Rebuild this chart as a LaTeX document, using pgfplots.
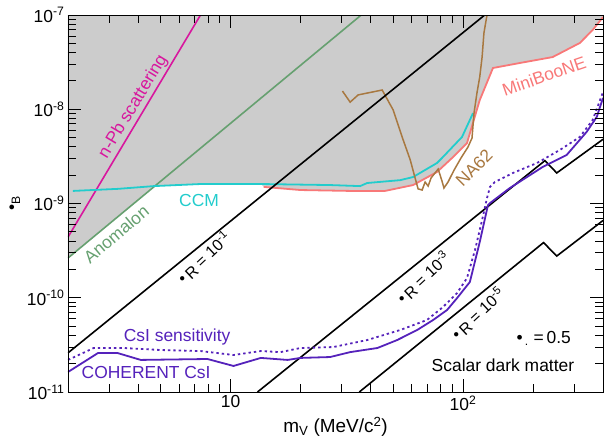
\documentclass[border=0pt]{standalone}
\usepackage{fontspec}
\setmainfont{Liberation Sans}
\usepackage{pgfplots}
\pgfplotsset{compat=1.18}

\definecolor{fillgray}{HTML}{CCCCCC}
\definecolor{npb}{HTML}{D8179E}
\definecolor{anom}{HTML}{66A070}
\definecolor{ccm}{HTML}{22CCCC}
\definecolor{mboone}{HTML}{F87878}
\definecolor{na62}{HTML}{A87840}
\definecolor{csi}{HTML}{5522BB}

\newcommand{\lblfont}{\fontsize{17.5}{20}\selectfont}
\newcommand{\relicfont}{\fontsize{16}{19}\selectfont}

\begin{document}
\begin{tikzpicture}
\useasboundingbox (-68bp,-49bp) rectangle (538bp,392bp);
\begin{axis}[
  at={(0,0)}, anchor=south west,
  width=535bp, height=377bp, scale only axis,
  xmode=log, ymode=log,
  xmin=2, xmax=400, ymin=1e-11, ymax=1e-7,
  xtick={10,100}, xticklabels={10,10\textsuperscript{2}},
  minor xtick={2,3,4,5,6,7,8,9,20,30,40,50,60,70,80,90,200,300,400},
  ytick={1e-11,1e-10,1e-9,1e-8,1e-7},
  yticklabels={10\textsuperscript{-11},10\textsuperscript{-10},10\textsuperscript{-9},10\textsuperscript{-8},10\textsuperscript{-7}},
  minor ytick={2e-11,3e-11,4e-11,5e-11,6e-11,7e-11,8e-11,9e-11,
               2e-10,3e-10,4e-10,5e-10,6e-10,7e-10,8e-10,9e-10,
               2e-9,3e-9,4e-9,5e-9,6e-9,7e-9,8e-9,9e-9,
               2e-8,3e-8,4e-8,5e-8,6e-8,7e-8,8e-8,9e-8},
  tick align=inside,
  major tick length=13bp, minor tick length=8bp,
  tick style={black, line width=0.8bp},
  axis line style={black, line width=0.8bp},
  ticklabel style={font=\lblfont},
  xlabel={m\textsubscript{V} (MeV/c\textsuperscript{2})},
  xlabel style={font=\fontsize{19}{22}\selectfont},
  ylabel={\textbullet\textsubscript{B}},
  ylabel style={font=\lblfont},
  axis on top,
]

% excluded region
\addplot[fill=fillgray, draw=none] coordinates {
  (2,2.64e-10) (4.68,1.53e-9) (7.43,1.61e-9) (13.5,1.61e-9) (13.9,1.50e-9)
  (20,1.39e-9) (32.7,1.36e-9) (46.2,1.36e-9) (61,1.57e-9) (77.3,2.16e-9)
  (90.6,3.11e-9) (104,4.38e-9) (118,1.25e-8) (134.5,2.74e-8) (176,3.1e-8)
  (243,3.58e-8) (318,5.05e-8) (361,6.93e-8) (400,9.5e-8) (400,1e-7) (2,1e-7)};

% n-Pb scattering and Anomalon
\addplot[npb, line width=1.6bp] coordinates {(2,4.4e-10) (7.43,1e-7)};
\addplot[anom, line width=1.6bp] coordinates {(2,2.64e-10) (36.5,1e-7)};

% CCM
\addplot[ccm, line width=1.8bp] coordinates {
  (2.10,1.36e-9) (3.27,1.43e-9) (4.68,1.53e-9) (7.43,1.61e-9) (13.5,1.61e-9)
  (26.8,1.57e-9) (36.1,1.53e-9) (38.7,1.65e-9) (53.7,1.77e-9) (61.0,1.91e-9)
  (77.3,2.69e-9) (81.2,3.04e-9) (99.0,5.08e-9) (110.4,9.1e-9)};

% MiniBooNE
\addplot[mboone, line width=1.8bp] coordinates {
  (13.9,1.50e-9) (20,1.39e-9) (32.7,1.36e-9) (46.2,1.36e-9) (61,1.57e-9)
  (77.3,2.16e-9) (90.6,3.11e-9) (104,4.38e-9) (118,1.25e-8) (134.5,2.74e-8)
  (176,3.1e-8) (243,3.58e-8) (318,5.05e-8) (361,6.93e-8) (400,9.5e-8)};

% NA62
\addplot[na62, line width=1.5bp] coordinates {
  (30.3,1.56e-8) (32.7,1.19e-8) (35.4,1.42e-8) (44.9,1.60e-8) (50.1,9.8e-9)
  (55.3,4.72e-9) (59.3,2.90e-9) (62.2,1.87e-9) (64.1,1.43e-9) (66.7,1.39e-9)
  (68.7,1.69e-9) (70.8,1.53e-9) (72.9,1.87e-9) (78.2,2.32e-9) (81.2,1.73e-9)
  (82.8,1.46e-9) (86.2,1.69e-9) (91.5,2.26e-9) (98.0,3.04e-9) (105,3.97e-9)
  (109.3,4.95e-9) (111.5,9.1e-9) (114.8,1.49e-8) (118,2.2e-8) (120.8,3.58e-8)
  (123,6.44e-8) (126.8,1e-7)};

% scalar dark matter relic lines
\addplot[black, line width=1.6bp] coordinates {(2,2.6e-11) (124,1e-7)};
\addplot[black, line width=1.6bp] coordinates {(13.06,1e-11) (225,2.85e-9) (253,2.11e-9) (400,4.8e-9)};
\addplot[black, line width=1.6bp] coordinates {(35.8,1e-11) (222,3.85e-10) (253,2.77e-10) (400,6.6e-10)};

% COHERENT CsI sensitivity
\addplot[csi, line width=1.8bp, dash pattern=on 2.4bp off 3bp] coordinates {
  (2,2.19e-11) (2.58,2.93e-11) (3.48,2.93e-11) (5.0,2.79e-11) (7.43,2.72e-11)
  (10.3,2.47e-11) (13.5,2.72e-11) (16.4,2.65e-11) (20,2.93e-11) (27.7,3.0e-11)
  (38.7,3.56e-11) (53.7,4.55e-11) (70,5.81e-11) (82,7.98e-11) (94.2,1.12e-10)
  (104,1.62e-10) (112.6,3.21e-10) (120.8,6.69e-10) (126.8,1.14e-9) (130.6,1.50e-9)
  (137,1.69e-9) (164,2.11e-9) (208,2.69e-9) (261,3.70e-9) (318,5.08e-9)
  (361,7.69e-9) (400,1.52e-8)};

% COHERENT CsI result
\addplot[csi, line width=1.8bp] coordinates {
  (2,1.63e-11) (2.69,2.59e-11) (3.27,2.59e-11) (4.11,2.19e-11) (7.96,2.24e-11)
  (10.3,1.89e-11) (13.5,2.30e-11) (17.6,2.19e-11) (20,2.30e-11) (26.8,2.35e-11)
  (32.7,2.65e-11) (42.8,2.93e-11) (52.1,3.56e-11) (63.5,4.55e-11) (74.4,5.81e-11)
  (85.4,7.42e-11) (94.2,9.9e-11) (107,1.47e-10) (118,3.9e-10) (128,9.6e-10)
  (130.6,1.01e-9) (159,1.46e-9) (220,2.44e-9) (279,3.27e-9) (340,5.74e-9)
  (376,8.28e-9) (400,1.32e-8)};

% labels
\node[npb, rotate=59, font=\lblfont] at (rel axis cs:0.122,0.757) {n-Pb scattering};
\node[anom, rotate=40, font=\lblfont] at (rel axis cs:0.090,0.419) {Anomalon};
\node[ccm, font=\lblfont] at (rel axis cs:0.245,0.509) {CCM};
\node[mboone, rotate=19, font=\lblfont] at (rel axis cs:0.890,0.838) {MiniBooNE};
\node[na62, rotate=45, font=\lblfont] at (rel axis cs:0.759,0.594) {NA62};
\node[csi, font=\lblfont] at (rel axis cs:0.204,0.146) {CsI sensitivity};
\node[csi, font=\lblfont] at (rel axis cs:0.146,0.053) {COHERENT CsI};
\node[black, font=\lblfont] at (rel axis cs:0.813,0.072) {Scalar dark matter};
\node[black, font=\lblfont, anchor=base west] at (rel axis cs:0.832,0.130) {\textbullet\textsubscript{\,.}\ =\,0.5};
\node[black, font=\relicfont, anchor=base west, rotate=43] at (rel axis cs:0.212,0.278) {\textbullet\,\raisebox{-2bp}{R} = 10\textsuperscript{-1}};
\node[black, font=\relicfont, anchor=base west, rotate=43] at (rel axis cs:0.622,0.225) {\textbullet\,\raisebox{-2bp}{R} = 10\textsuperscript{-3}};
\node[black, font=\relicfont, anchor=base west, rotate=43] at (rel axis cs:0.724,0.130) {\textbullet\,\raisebox{-2bp}{R} = 10\textsuperscript{-5}};
\end{axis}
\end{tikzpicture}
\end{document}
